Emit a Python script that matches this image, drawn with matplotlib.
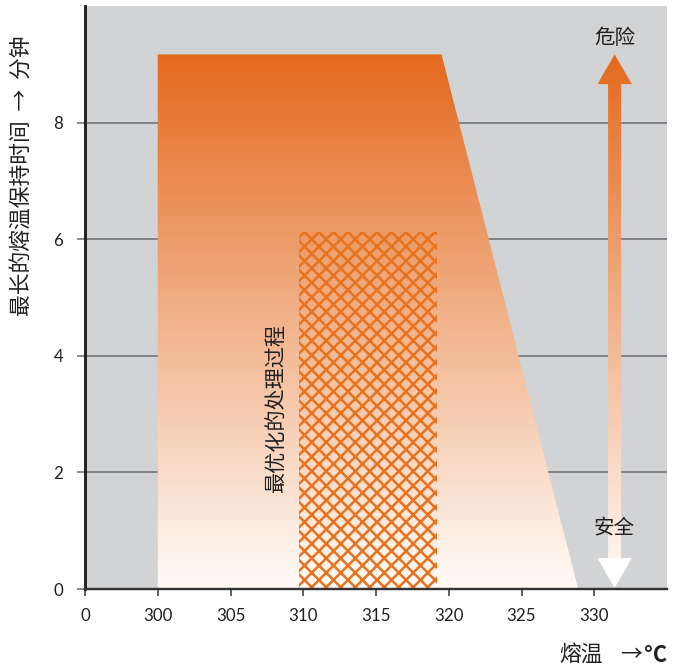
import numpy as np
import matplotlib
matplotlib.use("Agg")
import matplotlib.pyplot as plt
from matplotlib.patches import Polygon, Rectangle

plt.rcParams['font.family'] = ['Lato', 'Noto Sans CJK SC', 'DejaVu Sans']
plt.rcParams['hatch.linewidth'] = 2.1
cjk = ['Noto Sans CJK SC', 'DejaVu Sans']

# 熔温 (°C) / 最长保持时间 (分钟)
profile_temp = [300.0, 300.0, 319.5, 328.9]
profile_time = [0.0, 9.17, 9.17, 0.0]

# 最优化的处理过程
optimal_temp = [309.7, 319.2]
optimal_time = [0.0, 6.13]

# 危险/安全 箭头
arrow_temp = 331.4
arrow_time = [0.02, 9.17]

x_ticks = [295, 300, 305, 310, 315, 320, 325, 330]
x_labels = ['0', '300', '305', '310', '315', '320', '325', '330']
y_ticks = [0, 2, 4, 6, 8]

orange = '#E4691E'
hatch_orange = '#E8731E'
grey_bg = '#D1D3D4'
grid_c = '#6D6E71'
ink = '#231F20'

dpi = 87
fig = plt.figure(figsize=(682 / dpi, 668 / dpi), dpi=dpi)
ax = fig.add_axes([85 / 682, 1 - 589 / 668, (667 - 85) / 682, (589 - 6) / 668])
ax.set_facecolor(grey_bg)
ax.set_xlim(295, 335)
ax.set_ylim(0, 10)

ax.set_axisbelow(True)
ax.yaxis.grid(True, color=grid_c, lw=1.3)
ax.xaxis.grid(False)

# gradient orange -> white
top = max(profile_time)
cmap = matplotlib.colors.LinearSegmentedColormap.from_list('ow', ['#FFFCF9', orange])
grad = np.linspace(0, 1, 256).reshape(-1, 1)

area = Polygon(np.column_stack([profile_temp, profile_time]), closed=True,
               facecolor='none', edgecolor='none')
ax.add_patch(area)
im = ax.imshow(grad, cmap=cmap, origin='lower', aspect='auto',
               extent=[295, 335, 0, top], interpolation='bicubic', zorder=1)
im.set_clip_path(area)

# hatched optimal region
ax.add_patch(Rectangle((optimal_temp[0], optimal_time[0]),
                       optimal_temp[1] - optimal_temp[0],
                       optimal_time[1] - optimal_time[0],
                       fill=False, hatch='xx', edgecolor=hatch_orange,
                       linewidth=0, zorder=2))

# double arrow
shaft = 0.45
head = 1.18
head_len = 0.51
lo, hi = arrow_time
up_arrow = Polygon([(arrow_temp - shaft, lo + head_len),
                    (arrow_temp - shaft, hi - head_len),
                    (arrow_temp - head, hi - head_len),
                    (arrow_temp, hi),
                    (arrow_temp + head, hi - head_len),
                    (arrow_temp + shaft, hi - head_len),
                    (arrow_temp + shaft, lo + head_len)],
                   closed=True, facecolor='none', edgecolor='none')
ax.add_patch(up_arrow)
im2 = ax.imshow(grad, cmap=cmap, origin='lower', aspect='auto',
                extent=[295, 335, 0, top], interpolation='bicubic', zorder=3)
im2.set_clip_path(up_arrow)
ax.add_patch(Polygon([(arrow_temp - head, lo + head_len),
                      (arrow_temp, lo),
                      (arrow_temp + head, lo + head_len)],
                     closed=True, facecolor='white', edgecolor='none', zorder=3))

ax.text(arrow_temp, 9.45, '危险', family=cjk, fontsize=17, color=ink,
        ha='center', va='center', zorder=4)
ax.text(arrow_temp, 1.06, '安全', family=cjk, fontsize=17, color=ink,
        ha='center', va='center', zorder=4)
ax.text(308.15, 3.1, '最优化的处理过程', family=cjk, fontsize=17.5, color=ink,
        rotation=90, ha='center', va='center', zorder=4)

# axes styling
for s in ['top', 'right']:
    ax.spines[s].set_visible(False)
ax.spines['left'].set_color(ink)
ax.spines['left'].set_linewidth(2.4)
ax.spines['bottom'].set_color('#333333')
ax.spines['bottom'].set_linewidth(2.0)
ax.spines['left'].set_zorder(5)
ax.spines['bottom'].set_zorder(5)

ax.set_xticks(x_ticks)
ax.set_xticklabels(x_labels)
ax.set_yticks(y_ticks)
ax.set_yticklabels([str(v) for v in y_ticks])
ax.tick_params(axis='x', direction='out', length=6, width=1.4, color='#444444',
               labelsize=14, labelcolor=ink, pad=10)
ax.tick_params(axis='y', direction='out', length=7, width=1.3, color=grid_c,
               labelsize=14, labelcolor=ink, pad=11)

fig.text(22 / 682, 1 - 176 / 668, '最长的熔温保持时间  →  分钟', family=cjk,
         fontsize=18, color=ink, rotation=90, ha='center', va='center')
fig.text(603 / 682, 1 - 655 / 668, '熔温', family=cjk,
         fontsize=18, color=ink, ha='right', va='center')
fig.text(631 / 682, 1 - 655 / 668, '→', family=cjk,
         fontsize=18, color=ink, ha='center', va='center')
fig.text(667 / 682, 1 - 655 / 668, '°C', family=cjk, fontweight='bold',
         fontsize=18, color=ink, ha='right', va='center')

fig.savefig('out.png', dpi=dpi)
